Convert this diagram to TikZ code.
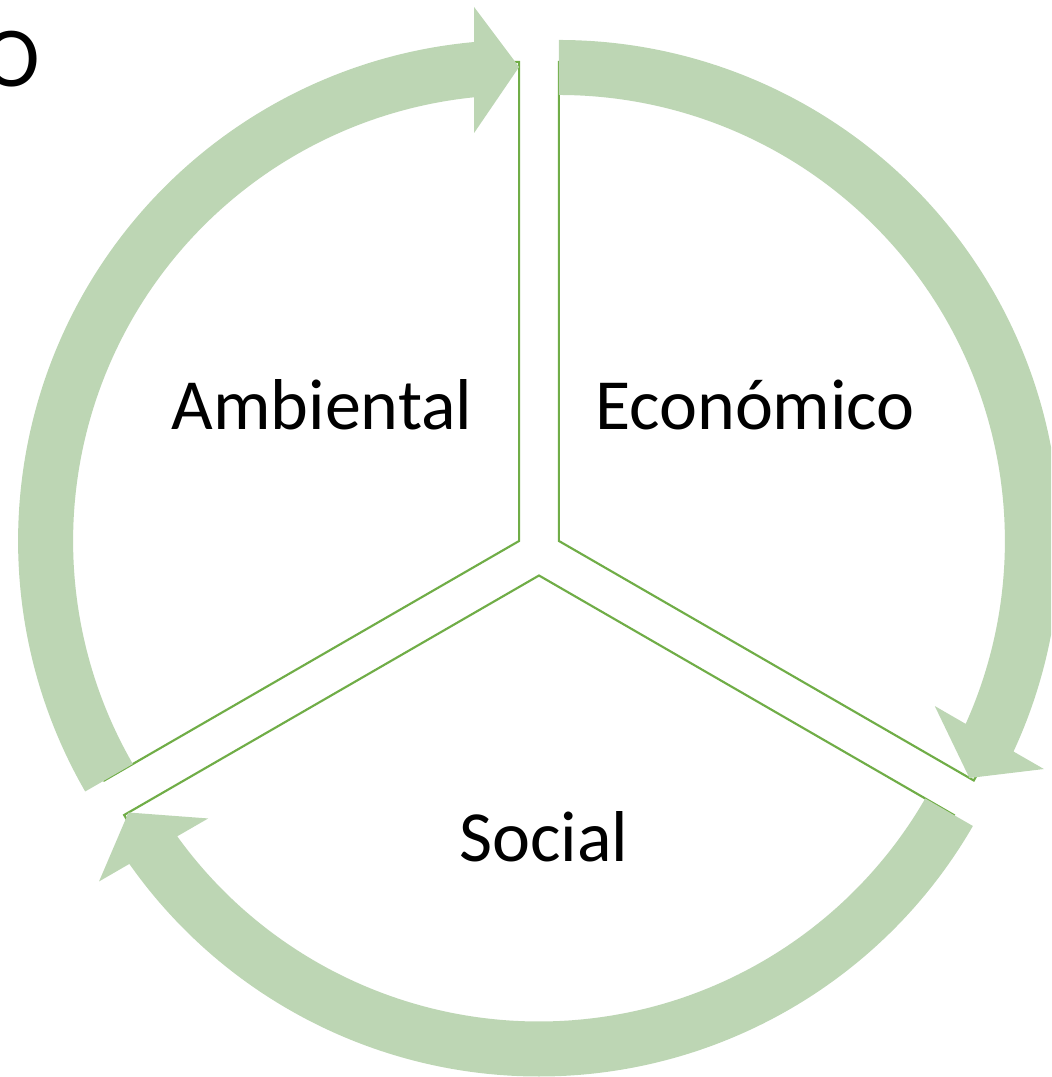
\documentclass[tikz,border=0pt]{standalone}
\usepackage{fontspec}
\setmainfont{Carlito}
\usetikzlibrary{calc}
\definecolor{bandgreen}{RGB}{189,214,180}
\definecolor{linegreen}{RGB}{112,173,71}
\begin{document}
\begin{tikzpicture}[x=0.75pt,y=0.75pt,
  sector/.style={draw=linegreen,line width=1.6pt,fill=white},
  band/.style={fill=bandgreen},
  lbl/.style={font=\fontsize{54}{64}\selectfont,text=black,anchor=base,inner sep=0pt}]
\useasboundingbox (0,0) rectangle (1051,1077);
\clip (0,0) rectangle (1051,1077);
\coordinate (C) at (539,524.5);
\coordinate (L) at ($(C)+(150:23)$);
\coordinate (R) at ($(C)+(30:23)$);
\coordinate (B) at ($(C)+(270:23)$);
% sectors
\draw[sector] (L) -- ++(90:479) arc[start angle=90,end angle=210,radius=479] -- cycle;
\draw[sector] (R) -- ++(90:479) arc[start angle=90,end angle=-30,radius=479] -- cycle;
\draw[sector] (B) -- ++(-30:479) arc[start angle=-30,end angle=-150,radius=479] -- cycle;
% bands with arrowheads (each drawn as the left one, rotated)
\def\bandpath{(210:501) arc[start angle=210,end angle=95.15,radius=501] -- (-45,534) -- (0,474) -- (-45,408) -- (95.79:446) arc[start angle=95.79,end angle=210,radius=446] -- cycle}
\begin{scope}[shift={(L)}]
\fill[band] \bandpath;
\end{scope}
\begin{scope}[shift={(R)},rotate=-120]
\fill[band] \bandpath;
\end{scope}
\begin{scope}[shift={(B)},rotate=120]
\fill[band] \bandpath;
\end{scope}
% labels
\node[lbl] (amb) at (322,647) {Ambiental};
\node[lbl] (eco) at (755,647) {Económico};
\node[lbl] (soc) at (544,215) {Social};
\node[lbl,font=\fontsize{64}{76}\selectfont] (ttl) at (12,990) {O};
\end{tikzpicture}
\end{document}
